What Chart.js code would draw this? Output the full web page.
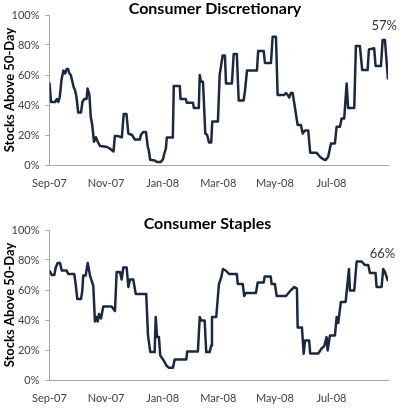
<!DOCTYPE html>
<html>
<head>
<meta charset="utf-8">
<script src="https://cdn.jsdelivr.net/npm/chart.js@4/dist/chart.umd.min.js"></script>
<style>
  html, body { margin: 0; padding: 0; background: #fff; }
  body { width: 400px; height: 408px; position: relative; overflow: hidden; }
  canvas { position: absolute; left: 0; }
  #top { top: 0; }
  #bottom { top: 215px; }
</style>
</head>
<body>
<canvas id="top" width="400" height="193"></canvas>
<canvas id="bottom" width="400" height="193"></canvas>
<script>
// x = days since 1 Sep 2007
const tickDays = [0, 61, 122, 182, 243, 304];
const tickLabels = ["Sep-07", "Nov-07", "Jan-08", "Mar-08", "May-08", "Jul-08"];
const yTicks = [0, 20, 40, 60, 80, 100];

const discDays = [0, 1.6, 6, 8, 9.5, 11, 13, 15, 17, 18.5, 20, 21.5, 23, 26, 27.5, 29, 31, 34, 35.5, 37.5,
  40, 41, 43, 44.5, 46, 48, 50, 52, 54.5, 59, 62, 65, 69, 70.5, 74, 78, 80, 83, 85, 89,
  92, 97.5, 98.5, 101, 104, 106, 107, 108.5, 113.5, 116, 120, 122.5, 123.5, 125.5, 126.5, 133, 134, 140.5, 141.3, 147,
  148, 154.7, 155.7, 161, 162, 163.3, 165.5, 168, 170, 172, 174.4, 175.5, 181.6, 183.5, 186.7, 189.2, 190.3, 196.7, 198.6, 202,
  204, 209.3, 210.7, 213, 223.7, 225, 231, 232.3, 238.8, 240.6, 244.2, 246, 253, 255, 256.8, 258.5, 260.3, 262.2, 267.6, 271.1,
  273, 275.4, 279, 281.1, 288, 291.6, 295.2, 297.8, 300.5, 303.5, 307.8, 309.6, 313.2, 315, 317.8, 320.4, 322, 328.6, 330.4, 334.7,
  337.2, 343, 344.4, 350.1, 351.6, 357.4, 359.2, 361.7, 365];
const discPct = [55, 42, 42, 44, 42, 45, 57, 63, 61, 64, 64, 61, 60, 52, 50, 45.5, 35, 35, 42, 44,
  44, 51, 47, 32, 27, 15.5, 18.5, 15.5, 12.7, 12.3, 12, 11, 9, 19.3, 19.3, 18.4, 34, 34, 21, 20,
  17, 17, 20, 22, 22, 12, 10, 3.5, 3, 2, 2, 4, 7, 11, 18.4, 18.4, 52.7, 52.7, 44, 44,
  41.5, 41.5, 38, 38, 60, 55.5, 55.5, 21, 20, 15, 15, 29, 29, 60, 73, 73, 54.4, 54.4, 74, 74,
  43, 43, 49, 63, 63, 76, 76, 68, 68, 85.5, 85.5, 46.7, 46.7, 48, 46.7, 45, 48, 48, 26.7, 26.7,
  21, 23, 23, 8.2, 8.2, 5.5, 3.8, 3.3, 5.5, 14.4, 14.4, 25.5, 25.5, 31, 31, 54.4, 38, 38, 79.3, 79.3,
  63.3, 63.3, 77, 77.8, 66, 66, 83.3, 83.3, 57];

const stapDays = [0, 2.4, 5.2, 6.7, 8.8, 11.3, 13.2, 18.5, 20.3, 26.7, 28.2, 30, 34, 35.4, 36.4, 39, 41.2, 43.7, 45.5, 47.2,
  49, 50.9, 52, 53.4, 55.5, 58, 67, 70.6, 72.4, 76, 77.8, 79.6, 83.2, 85, 86.8, 90.3, 93, 104.3, 106.2, 108.7,
  113.4, 114.5, 116, 118, 119.4, 122.4, 126, 128.8, 133.1, 135, 147.5, 148.5, 160, 162, 163.6, 167.3, 169, 172.7, 174.4, 175.2,
  179.8, 182.7, 185.2, 187, 190, 193.8, 202, 203, 208.3, 210, 211.8, 222.6, 224.5, 231, 232, 238.5, 239.5, 243, 245, 255,
  260.5, 264, 266.8, 267.6, 272.2, 274.1, 275.5, 280, 281.1, 289.8, 293.4, 296.2, 298.8, 299.9, 302.4, 307.8, 309.6, 311.3, 314.2, 319.3,
  322.9, 324, 328.6, 331.2, 336.6, 340.1, 343.7, 345.5, 351.6, 352.7, 358.1, 359.8, 361.7, 365];
const stapPct = [73, 70, 70, 75, 78, 78, 73, 73, 70.6, 70.6, 64, 54, 54, 59.6, 69.6, 69.6, 78, 69.6, 66, 63,
  39, 42, 39, 44, 41, 49, 49, 46, 72, 72, 67, 75, 75, 62, 67, 67, 57.4, 57.4, 29.7, 18.6,
  18.6, 42, 28.6, 28.6, 16.4, 13.7, 9.7, 8.2, 8.2, 13.7, 13.7, 19, 19, 42, 39.7, 39.7, 18.6, 18.6, 23, 42,
  42, 64, 68.4, 74, 73, 70.6, 70.6, 64, 64, 56, 58, 58, 65, 65, 69, 69, 64, 64, 56, 56,
  60, 62, 61, 35, 35, 17.5, 26.3, 26.3, 17.7, 17.7, 21, 22.6, 28.6, 19.7, 29.7, 29.7, 42, 38, 52, 52,
  74, 59.6, 59.6, 79, 79, 76.6, 76.6, 71.3, 71.3, 62, 62, 74, 72, 66];

const lineColor = "#1b2841";
const axisColor = "#a6a6a6";
const tickColor = "#404040";

const overlayText = {
  id: "overlayText",
  afterDraw(chart, args, opts) {
    const { ctx, scales } = chart;
    ctx.save();
    ctx.textAlign = "center";
    ctx.textBaseline = "middle";
    ctx.fillStyle = "#000";
    ctx.font = "bold 16px Lato";
    ctx.fillText(opts.title, opts.titleX, 9);
    ctx.fillStyle = "#333";
    ctx.font = "13px Lato";
    ctx.fillText(opts.label, scales.x.getPixelForValue(opts.labelDay), scales.y.getPixelForValue(opts.labelPct));
    ctx.restore();
  }
};

function makeChart(id, days, pct, title, titleX, label, labelDay, labelPct) {
  const points = days.map((d, i) => ({ x: d, y: pct[i] }));
  return new Chart(document.getElementById(id), {
    type: "line",
    data: {
      datasets: [{
        data: points,
        borderColor: lineColor,
        borderWidth: 2.5,
        pointRadius: 0,
        tension: 0,
        borderJoinStyle: "round",
        fill: false
      }]
    },
    options: {
      responsive: false,
      animation: false,
      devicePixelRatio: 1,
      layout: { padding: { top: 15, right: 12, left: 0, bottom: 0 } },
      plugins: {
        legend: { display: false },
        tooltip: { enabled: false },
        overlayText: { title: title, titleX: titleX, label: label, labelDay: labelDay, labelPct: labelPct }
      },
      scales: {
        x: {
          type: "linear",
          min: 0,
          max: 365,
          afterBuildTicks: (s) => { s.ticks = tickDays.map(v => ({ value: v })); },
          afterFit: (s) => { s.height = 28; },
          grid: { display: true, drawOnChartArea: false, drawTicks: false },
          border: { display: true, color: axisColor, width: 1 },
          ticks: {
            autoSkip: false,
            maxRotation: 0,
            padding: 12,
            color: tickColor,
            font: { size: 11 },
            callback: (v) => tickLabels[tickDays.indexOf(v)]
          }
        },
        y: {
          min: 0,
          max: 100,
          afterBuildTicks: (s) => { s.ticks = yTicks.map(v => ({ value: v })); },
          afterFit: (s) => { s.width = 49.5; },
          grid: { display: true, drawOnChartArea: false, drawTicks: true, tickLength: 4, color: axisColor },
          border: { display: true, color: axisColor, width: 1 },
          ticks: {
            padding: 6,
            color: tickColor,
            font: { size: 11 },
            callback: (v) => v + "%"
          },
          title: {
            display: true,
            text: "Stocks Above 50-Day",
            color: "#000",
            font: { size: 13, weight: "bold" },
            padding: { top: 2, bottom: 0 }
          }
        }
      }
    },
    plugins: [overlayText]
  });
}

Chart.defaults.font.family = "Lato";

Promise.all([
  document.fonts.load("bold 16px Lato"),
  document.fonts.load("11px Lato")
]).catch(() => {}).then(() => {
  makeChart("top", discDays, discPct, "Consumer Discretionary", 215, "57%", 361, 93);
  makeChart("bottom", stapDays, stapPct, "Consumer Staples", 207.5, "66%", 359, 84);
});
</script>
</body>
</html>
